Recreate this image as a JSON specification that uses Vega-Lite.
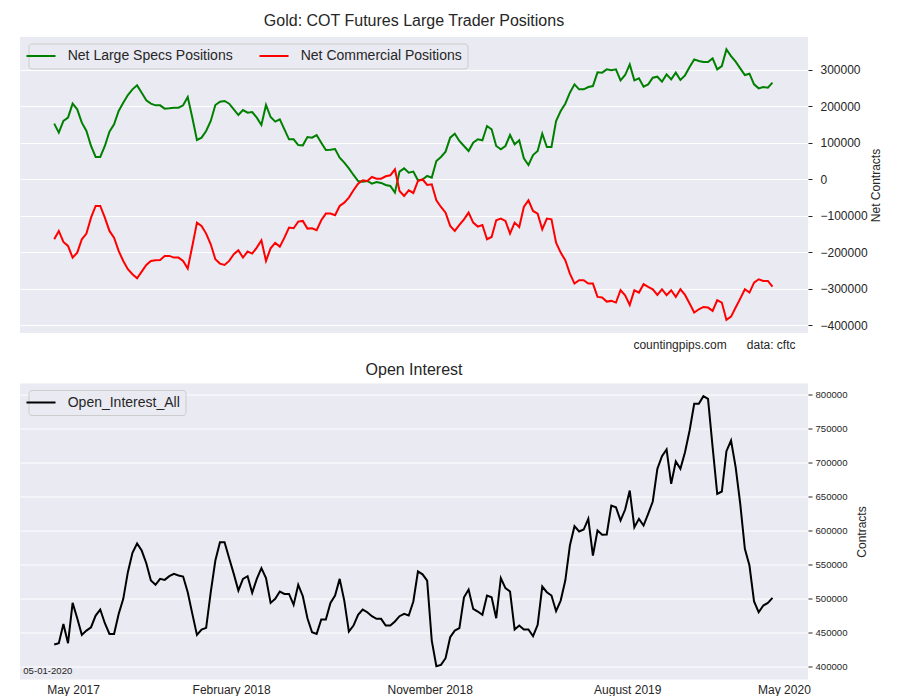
{
  "$schema": "https://vega.github.io/schema/vega-lite/v6.json",
  "padding": {"left": 20, "top": 13, "right": 5, "bottom": 0},
  "background": "white",
  "spacing": 11.5,
  "resolve": {"scale": {"color": "independent"}, "legend": {"color": "independent"}},
  "datasets": {
    "cot": [
      {"date":"2017-05-02","spec":152500,"comm":-164300,"oi":431900},
      {"date":"2017-05-09","spec":127800,"comm":-141500,"oi":433800},
      {"date":"2017-05-16","spec":159800,"comm":-171600,"oi":462200},
      {"date":"2017-05-23","spec":168900,"comm":-182600,"oi":433800},
      {"date":"2017-05-30","spec":207300,"comm":-214600,"oi":493100},
      {"date":"2017-06-06","spec":191700,"comm":-200900,"oi":470600},
      {"date":"2017-06-13","spec":155200,"comm":-164300,"oi":446100},
      {"date":"2017-06-20","spec":132400,"comm":-148800,"oi":452400},
      {"date":"2017-06-27","spec":91300,"comm":-105000,"oi":457300},
      {"date":"2017-07-04","spec":61200,"comm":-73000,"oi":474500},
      {"date":"2017-07-11","spec":61200,"comm":-73000,"oi":483300},
      {"date":"2017-07-18","spec":91300,"comm":-105000,"oi":463200},
      {"date":"2017-07-25","spec":130600,"comm":-141500,"oi":447500},
      {"date":"2017-08-01","spec":150600,"comm":-159800,"oi":447500},
      {"date":"2017-08-08","spec":187200,"comm":-196300,"oi":476900},
      {"date":"2017-08-15","spec":210000,"comm":-223700,"oi":499000},
      {"date":"2017-08-22","spec":231000,"comm":-246500,"oi":538200},
      {"date":"2017-08-29","spec":246500,"comm":-260200,"oi":566600},
      {"date":"2017-09-05","spec":257500,"comm":-271200,"oi":580300},
      {"date":"2017-09-12","spec":237400,"comm":-252900,"oi":570000},
      {"date":"2017-09-19","spec":216400,"comm":-234600,"oi":551400},
      {"date":"2017-09-26","spec":207300,"comm":-223700,"oi":525900},
      {"date":"2017-10-03","spec":202700,"comm":-221900,"oi":519600},
      {"date":"2017-10-10","spec":202700,"comm":-220900,"oi":528400},
      {"date":"2017-10-17","spec":193600,"comm":-210000,"oi":526900},
      {"date":"2017-10-24","spec":194500,"comm":-210000,"oi":532300},
      {"date":"2017-10-31","spec":196300,"comm":-214600,"oi":535700},
      {"date":"2017-11-07","spec":196300,"comm":-214600,"oi":533300},
      {"date":"2017-11-14","spec":202700,"comm":-223700,"oi":531800},
      {"date":"2017-11-21","spec":225500,"comm":-244700,"oi":508800},
      {"date":"2017-11-28","spec":168900,"comm":-182600,"oi":476900},
      {"date":"2017-12-05","spec":107700,"comm":-118700,"oi":446100},
      {"date":"2017-12-12","spec":114100,"comm":-127800,"oi":453900},
      {"date":"2017-12-19","spec":132400,"comm":-148800,"oi":456400},
      {"date":"2017-12-26","spec":159800,"comm":-178000,"oi":508800},
      {"date":"2018-01-02","spec":203600,"comm":-219100,"oi":555300},
      {"date":"2018-01-09","spec":212700,"comm":-231000,"oi":582300},
      {"date":"2018-01-16","spec":214600,"comm":-234600,"oi":582300},
      {"date":"2018-01-23","spec":207300,"comm":-223700,"oi":558800},
      {"date":"2018-01-30","spec":191700,"comm":-205400,"oi":535700},
      {"date":"2018-02-06","spec":176200,"comm":-194500,"oi":511200},
      {"date":"2018-02-13","spec":189900,"comm":-214600,"oi":528400},
      {"date":"2018-02-20","spec":182600,"comm":-198100,"oi":532300},
      {"date":"2018-02-27","spec":184400,"comm":-203600,"oi":507800},
      {"date":"2018-03-06","spec":168900,"comm":-187200,"oi":528400},
      {"date":"2018-03-13","spec":148800,"comm":-167100,"oi":544100},
      {"date":"2018-03-20","spec":203600,"comm":-223700,"oi":529400},
      {"date":"2018-03-27","spec":170700,"comm":-189000,"oi":493100},
      {"date":"2018-04-03","spec":158000,"comm":-174400,"oi":499000},
      {"date":"2018-04-10","spec":164300,"comm":-184400,"oi":509800},
      {"date":"2018-04-17","spec":137000,"comm":-159800,"oi":506300},
      {"date":"2018-04-24","spec":109600,"comm":-132400,"oi":506300},
      {"date":"2018-05-01","spec":109600,"comm":-134200,"oi":490200},
      {"date":"2018-05-08","spec":94000,"comm":-116000,"oi":519600},
      {"date":"2018-05-15","spec":93100,"comm":-114100,"oi":502900},
      {"date":"2018-05-22","spec":116000,"comm":-135100,"oi":470600},
      {"date":"2018-05-29","spec":114100,"comm":-134200,"oi":450000},
      {"date":"2018-06-05","spec":121400,"comm":-139700,"oi":447500},
      {"date":"2018-06-12","spec":100400,"comm":-112300,"oi":468600},
      {"date":"2018-06-19","spec":80300,"comm":-94000,"oi":468600},
      {"date":"2018-06-26","spec":81300,"comm":-94000,"oi":493100},
      {"date":"2018-07-03","spec":83100,"comm":-98600,"oi":503900},
      {"date":"2018-07-10","spec":59300,"comm":-73000,"oi":528400},
      {"date":"2018-07-17","spec":45700,"comm":-63900,"oi":496500},
      {"date":"2018-07-24","spec":30100,"comm":-50200,"oi":451000},
      {"date":"2018-07-31","spec":11900,"comm":-30100,"oi":459800},
      {"date":"2018-08-07","spec":-4600,"comm":-11900,"oi":475500},
      {"date":"2018-08-14","spec":-6400,"comm":-2700,"oi":483300},
      {"date":"2018-08-21","spec":-4600,"comm":-4600,"oi":479400},
      {"date":"2018-08-28","spec":-11900,"comm":6400,"oi":473500},
      {"date":"2018-09-04","spec":-7300,"comm":1800,"oi":469600},
      {"date":"2018-09-11","spec":-10000,"comm":1800,"oi":469600},
      {"date":"2018-09-18","spec":-15500,"comm":8200,"oi":459800},
      {"date":"2018-09-25","spec":-18300,"comm":11000,"oi":459800},
      {"date":"2018-10-02","spec":-36500,"comm":27400,"oi":465700},
      {"date":"2018-10-09","spec":21000,"comm":-32000,"oi":473500},
      {"date":"2018-10-16","spec":30100,"comm":-45700,"oi":476900},
      {"date":"2018-10-23","spec":18300,"comm":-30100,"oi":474500},
      {"date":"2018-10-30","spec":21000,"comm":-37400,"oi":495100},
      {"date":"2018-11-06","spec":-2700,"comm":-4600,"oi":539200},
      {"date":"2018-11-13","spec":-900,"comm":0,"oi":535000},
      {"date":"2018-11-20","spec":9100,"comm":-15500,"oi":525900},
      {"date":"2018-11-27","spec":4600,"comm":-13700,"oi":437700},
      {"date":"2018-12-04","spec":50200,"comm":-57500,"oi":400000},
      {"date":"2018-12-11","spec":61200,"comm":-75800,"oi":402000},
      {"date":"2018-12-18","spec":75800,"comm":-91300,"oi":411800},
      {"date":"2018-12-25","spec":114100,"comm":-127800,"oi":442600},
      {"date":"2019-01-01","spec":125100,"comm":-141500,"oi":452400},
      {"date":"2019-01-08","spec":105000,"comm":-125100,"oi":455900},
      {"date":"2019-01-15","spec":91300,"comm":-109600,"oi":501400},
      {"date":"2019-01-22","spec":77600,"comm":-91300,"oi":512700},
      {"date":"2019-01-29","spec":100400,"comm":-118700,"oi":484300},
      {"date":"2019-02-05","spec":109600,"comm":-129600,"oi":480400},
      {"date":"2019-02-12","spec":106800,"comm":-125100,"oi":475500},
      {"date":"2019-02-19","spec":146100,"comm":-164300,"oi":503900},
      {"date":"2019-02-26","spec":137000,"comm":-158000,"oi":501400},
      {"date":"2019-03-05","spec":91300,"comm":-112300,"oi":470600},
      {"date":"2019-03-12","spec":82200,"comm":-107700,"oi":529400},
      {"date":"2019-03-19","spec":91300,"comm":-114100,"oi":514700},
      {"date":"2019-03-26","spec":121400,"comm":-148800,"oi":509800},
      {"date":"2019-04-02","spec":95900,"comm":-118700,"oi":453900},
      {"date":"2019-04-09","spec":106800,"comm":-130600,"oi":459800},
      {"date":"2019-04-16","spec":57500,"comm":-75800,"oi":453900},
      {"date":"2019-04-23","spec":39300,"comm":-57500,"oi":453900},
      {"date":"2019-04-30","spec":66600,"comm":-86700,"oi":444100},
      {"date":"2019-05-07","spec":77600,"comm":-94000,"oi":460800},
      {"date":"2019-05-14","spec":125100,"comm":-137000,"oi":517100},
      {"date":"2019-05-21","spec":88600,"comm":-107700,"oi":508800},
      {"date":"2019-05-28","spec":88600,"comm":-109600,"oi":503900},
      {"date":"2019-06-04","spec":159800,"comm":-173500,"oi":480900},
      {"date":"2019-06-11","spec":187200,"comm":-200900,"oi":496500},
      {"date":"2019-06-18","spec":207300,"comm":-221900,"oi":525900},
      {"date":"2019-06-25","spec":237400,"comm":-258400,"oi":577400},
      {"date":"2019-07-02","spec":260200,"comm":-285800,"oi":605800},
      {"date":"2019-07-09","spec":246500,"comm":-276600,"oi":598000},
      {"date":"2019-07-16","spec":246500,"comm":-276600,"oi":600900},
      {"date":"2019-07-23","spec":252900,"comm":-285800,"oi":616600},
      {"date":"2019-07-30","spec":255600,"comm":-285800,"oi":562700},
      {"date":"2019-08-06","spec":293100,"comm":-322300,"oi":599400},
      {"date":"2019-08-13","spec":292200,"comm":-324100,"oi":593100},
      {"date":"2019-08-20","spec":301300,"comm":-335100,"oi":593600},
      {"date":"2019-08-27","spec":298600,"comm":-333200,"oi":636200},
      {"date":"2019-09-03","spec":301300,"comm":-337800,"oi":633700},
      {"date":"2019-09-10","spec":271200,"comm":-304000,"oi":614100},
      {"date":"2019-09-17","spec":285800,"comm":-317700,"oi":630300},
      {"date":"2019-09-24","spec":315000,"comm":-344200,"oi":658200},
      {"date":"2019-10-01","spec":271200,"comm":-304000,"oi":604300},
      {"date":"2019-10-08","spec":276600,"comm":-310400,"oi":616600},
      {"date":"2019-10-15","spec":253800,"comm":-287600,"oi":606800},
      {"date":"2019-10-22","spec":260200,"comm":-294900,"oi":623900},
      {"date":"2019-10-29","spec":278500,"comm":-301300,"oi":642100},
      {"date":"2019-11-05","spec":281200,"comm":-316800,"oi":690100},
      {"date":"2019-11-12","spec":267500,"comm":-301300,"oi":708700},
      {"date":"2019-11-19","spec":287600,"comm":-317700,"oi":718500},
      {"date":"2019-11-26","spec":273900,"comm":-304000,"oi":668000},
      {"date":"2019-12-03","spec":292200,"comm":-322300,"oi":700900},
      {"date":"2019-12-10","spec":272100,"comm":-301300,"oi":690100},
      {"date":"2019-12-17","spec":284900,"comm":-316800,"oi":714600},
      {"date":"2019-12-24","spec":307700,"comm":-340500,"oi":746400},
      {"date":"2019-12-31","spec":328700,"comm":-365200,"oi":785600},
      {"date":"2020-01-07","spec":324100,"comm":-356100,"oi":785600},
      {"date":"2020-01-14","spec":321400,"comm":-349700,"oi":796900},
      {"date":"2020-01-21","spec":321400,"comm":-351500,"oi":793000},
      {"date":"2020-01-28","spec":331400,"comm":-360600,"oi":721900},
      {"date":"2020-02-04","spec":301300,"comm":-331400,"oi":653300},
      {"date":"2020-02-11","spec":310400,"comm":-337800,"oi":656800},
      {"date":"2020-02-18","spec":356100,"comm":-385300,"oi":716000},
      {"date":"2020-02-25","spec":337800,"comm":-376200,"oi":731700},
      {"date":"2020-03-03","spec":322300,"comm":-351500,"oi":692500},
      {"date":"2020-03-10","spec":304000,"comm":-326900,"oi":638600},
      {"date":"2020-03-17","spec":285800,"comm":-301300,"oi":572500},
      {"date":"2020-03-24","spec":289400,"comm":-310400,"oi":548000},
      {"date":"2020-03-31","spec":260200,"comm":-283000,"oi":495100},
      {"date":"2020-04-07","spec":249200,"comm":-273900,"oi":479400},
      {"date":"2020-04-14","spec":252900,"comm":-278500,"oi":489200},
      {"date":"2020-04-21","spec":251100,"comm":-278500,"oi":493100},
      {"date":"2020-04-28","spec":264800,"comm":-294000,"oi":500500}
    ],
    "note": [
      {"date":"2017-03-16","oi":393500,"label":"05-01-2020"}
    ]
  },
  "vconcat": [
    {
      "width": 788,
      "height": 296,
      "title": {"text": "Gold: COT Futures Large Trader Positions", "offset": 8},
      "data": {"name": "cot"},
      "transform": [{"fold": ["spec", "comm"], "as": ["series", "value"]}],
      "mark": {"type": "line", "strokeWidth": 2},
      "encoding": {
        "x": {
          "field": "date", "type": "temporal",
          "scale": {"domain": [{"year": 2017, "month": 3, "date": 11}, {"year": 2020, "month": 6, "date": 21}]},
          "axis": {
            "title": "countingpips.com\u00a0\u00a0\u00a0\u00a0\u00a0\u00a0data: cftc",
            "labels": false, "ticks": false, "grid": false, "domain": false,
            "titleFontSize": 12, "titleFontWeight": "normal",
            "titleAlign": "right", "titleX": 775, "titlePadding": 6
          }
        },
        "y": {
          "field": "value", "type": "quantitative",
          "scale": {"domain": [-421200, 390000], "nice": false, "zero": false},
          "axis": {
            "orient": "right", "title": "Net Contracts",
            "values": [-400000, -300000, -200000, -100000, 0, 100000, 200000, 300000],
            "format": "d", "labelFontSize": 12, "tickSize": 4, "labelPadding": 8,
            "titleFontSize": 12, "titleAngle": 270, "titleBaseline": "top", "titlePadding": 3
          }
        },
        "color": {
          "field": "series", "type": "nominal",
          "scale": {"domain": ["spec", "comm"], "range": ["#008000", "#ff0000"]},
          "legend": {
            "title": null,
            "labelExpr": "datum.label == 'spec' ? 'Net Large Specs Positions' : 'Net Commercial Positions'"
          }
        }
      }
    },
    {
      "width": 788,
      "height": 296,
      "title": {"text": "Open Interest", "offset": 5.5},
      "encoding": {
        "x": {
          "field": "date", "type": "temporal",
          "scale": {"domain": [{"year": 2017, "month": 3, "date": 11}, {"year": 2020, "month": 6, "date": 21}]},
          "axis": {
            "title": null,
            "values": [
              {"year": 2017, "month": 5, "date": 1},
              {"year": 2018, "month": 2, "date": 1},
              {"year": 2018, "month": 11, "date": 1},
              {"year": 2019, "month": 8, "date": 1},
              {"year": 2020, "month": 5, "date": 1}
            ],
            "format": "%B %Y", "labelFontSize": 12, "ticks": false, "grid": false,
            "labelPadding": 5, "labelFlush": false, "labelOverlap": false, "labelBound": false,
            "labelOffset": {
              "condition": [
                {"test": "year(datum.value) == 2017", "value": 19.5},
                {"test": "month(datum.value) == 1", "value": -4},
                {"test": "month(datum.value) == 10", "value": 15},
                {"test": "month(datum.value) == 7", "value": 33}
              ],
              "value": 9.5
            }
          }
        },
        "y": {
          "field": "oi", "type": "quantitative",
          "scale": {"domain": [380500, 815500], "nice": false, "zero": false},
          "axis": {
            "orient": "right", "title": "Contracts",
            "values": [400000, 450000, 500000, 550000, 600000, 650000, 700000, 750000, 800000],
            "format": "d", "labelFontSize": 9.6, "tickSize": 4, "labelPadding": 3,
            "labelOverlap": false,
            "titleFontSize": 12, "titleAngle": 270, "titleBaseline": "top", "titlePadding": 9
          }
        }
      },
      "layer": [
        {
          "data": {"name": "cot"},
          "mark": {"type": "line", "strokeWidth": 2},
          "encoding": {
            "color": {
              "datum": "Open_Interest_All", "type": "nominal",
              "scale": {"domain": ["Open_Interest_All"], "range": ["#000000"]},
              "legend": {"title": null}
            }
          }
        },
        {
          "data": {"name": "note"},
          "mark": {"type": "text", "align": "left", "baseline": "middle", "fontSize": 9.6, "color": "#262626"},
          "encoding": {
            "text": {"field": "label"}
          }
        }
      ]
    }
  ],
  "config": {
    "font": "Liberation Sans",
    "view": {"fill": "#eaeaf2", "stroke": null},
    "axis": {
      "domain": false,
      "labelColor": "#262626",
      "titleColor": "#262626",
      "titleFontWeight": "normal",
      "gridColor": "#ffffff",
      "gridWidth": 1,
      "gridOpacity": 1,
      "tickColor": "#262626"
    },
    "title": {
      "fontSize": 16, "fontWeight": "normal", "color": "#262626",
      "anchor": "middle", "frame": "group", "offset": 8
    },
    "legend": {
      "orient": "none", "legendX": 8.5, "legendY": 6.5, "direction": "horizontal",
      "labelFontSize": 14, "labelColor": "#262626", "labelLimit": 400,
      "symbolType": "M-2.5,0H2.5", "symbolStrokeWidth": 2, "symbolSize": 135,
      "labelOffset": 19.7, "columnPadding": 22, "padding": 5.5,
      "fillColor": "#eaeaf2", "strokeColor": "#cccccc", "cornerRadius": 3
    }
  }
}
